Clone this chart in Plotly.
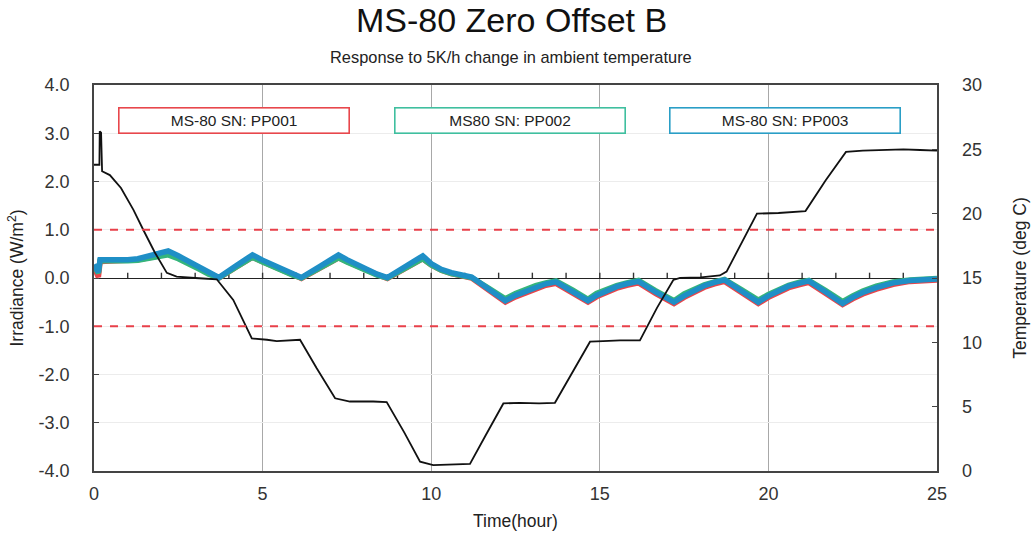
import plotly.graph_objects as go

# ---------------- data ----------------
t_irr = [0, 0.08, 0.13, 0.18, 0.5, 1.0, 1.3, 1.7, 2.0, 2.2, 2.5, 2.8, 3.1, 3.4, 3.7,
         4.2, 4.7, 5.0, 5.3, 5.6, 5.9, 6.15, 6.7, 7.25, 7.5, 7.8, 8.1, 8.4, 8.7,
         9.2, 9.75, 10.0, 10.3, 10.6, 10.9, 11.2, 11.7, 12.2, 12.5, 12.8, 13.1, 13.4, 13.7,
         14.2, 14.65, 14.9, 15.2, 15.5, 15.8, 16.15, 16.65, 17.2, 17.5, 17.8, 18.1, 18.4, 18.7,
         19.2, 19.7, 20.0, 20.3, 20.6, 20.9, 21.2, 21.7, 22.2, 22.5, 22.8, 23.2, 23.7, 24.2, 25.0]

pp001 = [0.22, 0.10, 0.02, 0.34, 0.35, 0.36, 0.38, 0.43, 0.47, 0.50, 0.42, 0.32, 0.20, 0.09, 0.0,
         0.22, 0.43, 0.34, 0.24, 0.15, 0.07, -0.01, 0.20, 0.42, 0.34, 0.24, 0.15, 0.07, -0.01,
         0.18, 0.40, 0.27, 0.16, 0.09, 0.04, 0.0, -0.25, -0.50, -0.39, -0.30, -0.22, -0.15, -0.11,
         -0.30, -0.50, -0.39, -0.29, -0.21, -0.15, -0.10, -0.32, -0.53, -0.40, -0.28, -0.19, -0.12, -0.07,
         -0.30, -0.53, -0.40, -0.29, -0.20, -0.14, -0.09, -0.32, -0.55, -0.43, -0.33, -0.23, -0.13, -0.07, -0.04]

pp002 = [0.25, 0.18, 0.10, 0.36, 0.35, 0.36, 0.37, 0.41, 0.45, 0.48, 0.40, 0.31, 0.19, 0.08, 0.0,
         0.22, 0.43, 0.33, 0.23, 0.14, 0.06, 0.0, 0.21, 0.42, 0.33, 0.23, 0.14, 0.06, 0.0,
         0.19, 0.40, 0.27, 0.16, 0.09, 0.05, 0.01, -0.21, -0.43, -0.32, -0.23, -0.16, -0.10, -0.06,
         -0.25, -0.44, -0.32, -0.23, -0.16, -0.10, -0.05, -0.26, -0.47, -0.33, -0.22, -0.14, -0.08, -0.03,
         -0.24, -0.46, -0.34, -0.24, -0.15, -0.09, -0.05, -0.26, -0.49, -0.37, -0.27, -0.17, -0.08, -0.04, -0.01]

pp003 = [0.28, 0.20, 0.12, 0.38, 0.37, 0.38, 0.40, 0.46, 0.52, 0.56, 0.46, 0.35, 0.22, 0.10, 0.01,
         0.25, 0.48, 0.37, 0.27, 0.17, 0.08, 0.01, 0.24, 0.48, 0.38, 0.27, 0.17, 0.08, 0.01,
         0.22, 0.46, 0.30, 0.18, 0.11, 0.06, 0.02, -0.23, -0.47, -0.36, -0.27, -0.19, -0.12, -0.08,
         -0.27, -0.47, -0.36, -0.26, -0.18, -0.12, -0.07, -0.29, -0.50, -0.37, -0.25, -0.16, -0.09, -0.04,
         -0.27, -0.50, -0.37, -0.26, -0.17, -0.11, -0.06, -0.29, -0.53, -0.40, -0.30, -0.20, -0.10, -0.05, -0.02]

t_temp = [0, 0.16, 0.17, 0.21, 0.24, 0.47, 0.8, 1.17, 1.46, 1.8, 2.16, 2.45, 3.0, 3.64,
          4.13, 4.68, 5.13, 5.42, 6.11, 6.6, 7.15, 7.59, 8.28, 8.68, 9.2, 9.67, 10.06, 10.6, 11.15,
          11.6, 12.14, 12.63, 13.2, 13.67, 14.2, 14.71, 15.1, 15.6, 16.19, 16.7, 17.18, 17.38,
          18.0, 18.56, 18.76, 19.2, 19.66, 20.3, 21.1, 21.7, 22.3, 22.8, 23.5, 24.0, 24.5, 25.0]
temp_c = [23.8, 23.8, 26.4, 26.3, 23.3, 23.0, 22.0, 20.3, 18.75, 17.0, 15.4, 15.1, 15.0, 14.9,
          13.3, 10.3, 10.2, 10.1, 10.2, 8.0, 5.65, 5.4, 5.4, 5.35, 3.0, 0.72, 0.46, 0.5, 0.55,
          2.7, 5.25, 5.3, 5.25, 5.3, 7.7, 10.05, 10.1, 10.15, 10.15, 12.7, 14.85, 15.0,
          15.05, 15.2, 15.5, 17.7, 20.0, 20.05, 20.2, 22.6, 24.8, 24.9, 24.95, 25.0, 24.95, 24.9]

limits = [1.0, -1.0]
zero_line_tick_hours = list(range(1, 25))
irr_ticks = [4.0, 3.0, 2.0, 1.0, 0.0, -1.0, -2.0, -3.0, -4.0]
irr_tick_labels = ["4.0", "3.0", "2.0", "1.0", "0.0", "-1.0", "-2.0", "-3.0", "-4.0"]
series_names = ["MS-80 SN: PP001", "MS80 SN: PP002", "MS-80 SN: PP003"]
series_colors = ["#e8454a", "#34b57c", "#1f8fc6"]
box_colors = ["#e8474c", "#3fbf9f", "#2a9ec6"]

# ---------------- figure ----------------
fig = go.Figure()

# small upward ticks along the zero line (drawn as one-sided error bars)
fig.add_trace(go.Scatter(x=zero_line_tick_hours, y=[0] * len(zero_line_tick_hours), mode="markers",
                         marker=dict(size=1, color="rgba(0,0,0,0)"), hoverinfo="skip",
                         showlegend=False,
                         error_y=dict(type="constant", value=0.11, valueminus=0, symmetric=False,
                                      color="#333333", thickness=1.4, width=0)))

for name, vals, col in zip(series_names, [pp001, pp002, pp003], series_colors):
    fig.add_trace(go.Scatter(x=t_irr, y=vals, name=name, mode="lines",
                             line=dict(color=col, width=5.5), xaxis="x", yaxis="y"))

fig.add_trace(go.Scatter(x=t_temp, y=temp_c, name="Temperature", mode="lines",
                         line=dict(color="#111111", width=1.8), xaxis="x", yaxis="y2"))

for lv in limits:
    fig.add_hline(y=lv, line=dict(color="#e8404a", width=2, dash="8px,8px"), layer="above")

font_family = "Liberation Sans, Arial, sans-serif"
tick_font = dict(family=font_family, size=18, color="#333333")
title_font = dict(family=font_family, size=17.5, color="#222222")

fig.update_layout(
    width=1034, height=533,
    margin=dict(l=94, r=97, t=85, b=62, autoexpand=False),
    paper_bgcolor="white", plot_bgcolor="white",
    showlegend=False,
    font=dict(family=font_family, color="#222222"),
    xaxis=dict(range=[0, 25], dtick=5, tick0=0, showgrid=True, gridcolor="#a8a8a8", gridwidth=1.2,
               showline=True, linecolor="#444444", linewidth=1.5, mirror=True, automargin=False,
               ticks="", tickfont=tick_font, zeroline=False, ticklabelstandoff=6,
               title=dict(text="Time(hour)", font=title_font, standoff=11)),
    yaxis=dict(range=[-4, 4], tickmode="array", tickvals=irr_ticks, ticktext=irr_tick_labels,
               showgrid=True, gridcolor="#ececec", gridwidth=1, showline=True, linecolor="#444444",
               linewidth=1.5, mirror=True, ticks="inside", ticklen=5, tickcolor="#444444",
               zeroline=True, zerolinecolor="#222222", zerolinewidth=1.2, automargin=False,
               tickfont=tick_font, ticklabelstandoff=19,
               title=dict(text="Irradiance (W/m<sup>2</sup>)", font=title_font, standoff=10)),
    yaxis2=dict(range=[0, 30], dtick=5, tick0=0, overlaying="y", side="right", showgrid=False,
                ticks="inside", ticklen=5, tickcolor="#444444", zeroline=False, automargin=False,
                tickfont=tick_font, ticklabelstandoff=24,
                title=dict(text="Temperature (deg C)", font=title_font, standoff=32)),
)

# title and subtitle
fig.add_annotation(text="MS-80 Zero Offset B", xref="paper", yref="paper",
                   x=0.4947, y=1, yshift=65, showarrow=False, yanchor="middle", xanchor="center",
                   font=dict(family=font_family, size=34, color="#111111"))
fig.add_annotation(text="Response to 5K/h change in ambient temperature", xref="paper", yref="paper",
                   x=0.4947, y=1, yshift=28, showarrow=False, yanchor="middle", xanchor="center",
                   font=dict(family=font_family, size=16.4, color="#222222"))

# legend-like boxes
box_x = [0.166, 0.494, 0.820]
for name, bc, bx in zip(series_names, box_colors, box_x):
    fig.add_annotation(text=name, xref="paper", yref="paper", x=bx, y=0.908,
                       xanchor="center", yanchor="middle",
                       showarrow=False, width=227, height=22, bordercolor=bc, borderwidth=1.6,
                       borderpad=1, bgcolor="white",
                       font=dict(family=font_family, size=15.5, color="#222222"))

# remove the default 8px page margin so the figure fills the window exactly
fig.write_html("out.html", config={"displayModeBar": False},
               post_script="document.body.style.margin='0';")
